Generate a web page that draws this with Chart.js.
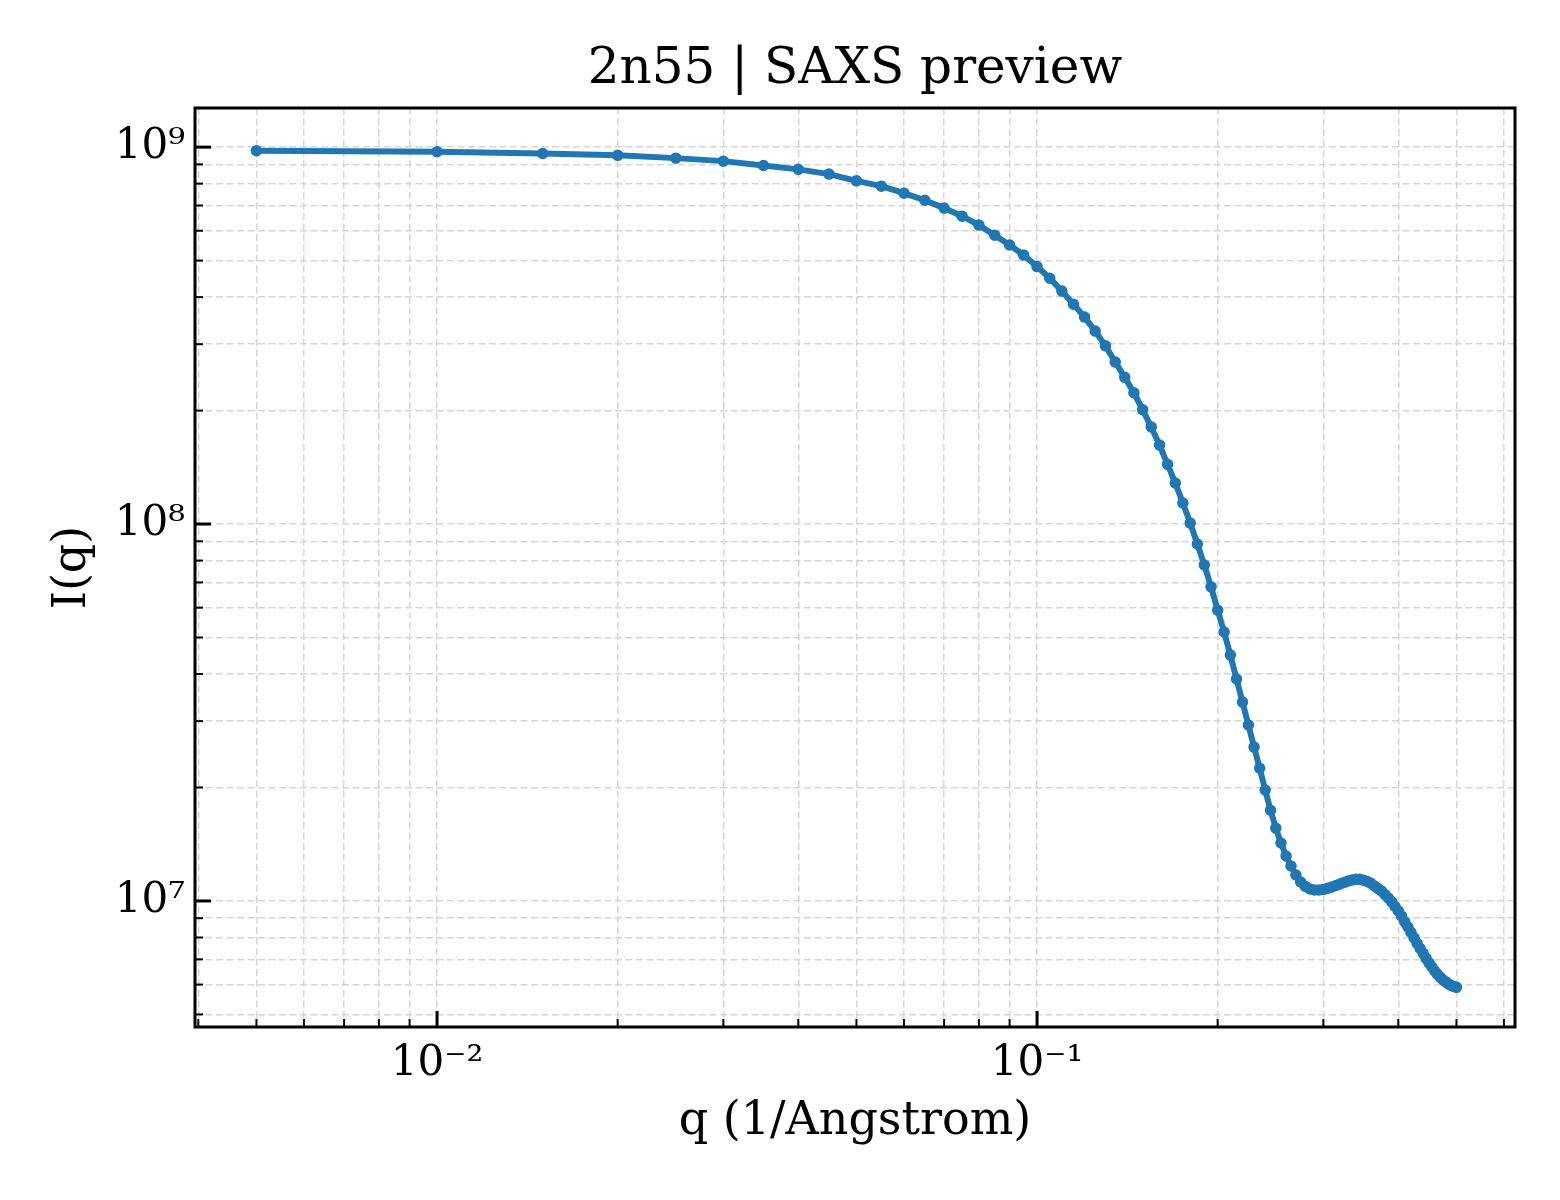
<!DOCTYPE html>
<html>
<head>
<meta charset="utf-8">
<title>2n55 | SAXS preview</title>
<script src="https://cdn.jsdelivr.net/npm/chart.js@4.4.1/dist/chart.umd.min.js"></script>
<style>
  html, body { margin: 0; padding: 0; background: #ffffff; }
  canvas { display: block; }
</style>
</head>
<body>
<canvas id="saxsChart" width="1560" height="1200"></canvas>
<script>
// q values (1/Angstrom)
const qValues = [
  0.005, 0.010, 0.015, 0.020, 0.025, 0.030, 0.035, 0.040, 0.045, 0.050,
  0.055, 0.060, 0.065, 0.070, 0.075, 0.080, 0.085, 0.090, 0.095, 0.100,
  0.105, 0.110, 0.115, 0.120, 0.125, 0.130, 0.135, 0.140, 0.145, 0.150,
  0.155, 0.160, 0.165, 0.170, 0.175, 0.180, 0.185, 0.190, 0.195, 0.200,
  0.205, 0.210, 0.215, 0.220, 0.225, 0.230, 0.235, 0.240, 0.245, 0.250,
  0.255, 0.260, 0.265, 0.270, 0.275, 0.280, 0.285, 0.290, 0.295, 0.300,
  0.305, 0.310, 0.315, 0.320, 0.325, 0.330, 0.335, 0.340, 0.345, 0.350,
  0.355, 0.360, 0.365, 0.370, 0.375, 0.380, 0.385, 0.390, 0.395, 0.400,
  0.405, 0.410, 0.415, 0.420, 0.425, 0.430, 0.435, 0.440, 0.445, 0.450,
  0.455, 0.460, 0.465, 0.470, 0.475, 0.480, 0.485, 0.490, 0.495, 0.500
];

// I(q)
const intensity = [
  9.78e8, 9.72e8, 9.62e8, 9.51e8, 9.35e8, 9.18e8, 8.94e8, 8.73e8, 8.48e8, 8.14e8,
  7.88e8, 7.55e8, 7.23e8, 6.89e8, 6.56e8, 6.21e8, 5.84e8, 5.50e8, 5.17e8, 4.82e8,
  4.49e8, 4.15e8, 3.83e8, 3.54e8, 3.25e8, 2.97e8, 2.69e8, 2.45e8, 2.23e8, 2.01e8,
  1.81e8, 1.62e8, 1.44e8, 1.285e8, 1.137e8, 1.006e8, 8.85e7, 7.79e7, 6.81e7, 5.91e7,
  5.17e7, 4.49e7, 3.88e7, 3.37e7, 2.93e7, 2.56e7, 2.25e7, 1.97e7, 1.74e7, 1.56e7,
  1.425e7, 1.316e7, 1.238e7, 1.172e7, 1.123e7, 1.093e7, 1.076e7, 1.070e7, 1.070e7, 1.073e7,
  1.080e7, 1.089e7, 1.099e7, 1.109e7, 1.120e7, 1.130e7, 1.137e7, 1.141e7, 1.141e7, 1.135e7,
  1.126e7, 1.114e7, 1.096e7, 1.079e7, 1.063e7, 1.040e7, 1.018e7, 9.94e6, 9.67e6, 9.41e6,
  9.12e6, 8.80e6, 8.53e6, 8.25e6, 7.98e6, 7.71e6, 7.48e6, 7.26e6, 7.04e6, 6.85e6,
  6.68e6, 6.52e6, 6.38e6, 6.27e6, 6.17e6, 6.10e6, 6.02e6, 5.97e6, 5.93e6, 5.90e6
];

// Axis ticks
const xMajorTicks = [0.01, 0.1];
const xMajorLabels = ["10\u207B\u00B2", "10\u207B\u00B9"];
const xMinorTicks = [0.004, 0.005, 0.006, 0.007, 0.008, 0.009,
  0.02, 0.03, 0.04, 0.05, 0.06, 0.07, 0.08, 0.09,
  0.2, 0.3, 0.4, 0.5, 0.6];
const yMajorTicks = [1e7, 1e8, 1e9];
const yMajorLabels = ["10\u2077", "10\u2078", "10\u2079"];
const yMinorTicks = [5e6, 6e6, 7e6, 8e6, 9e6,
  2e7, 3e7, 4e7, 5e7, 6e7, 7e7, 8e7, 9e7,
  2e8, 3e8, 4e8, 5e8, 6e8, 7e8, 8e8, 9e8];

const FONT = "'DejaVu Serif', 'Liberation Serif', serif";
const LINE_COLOR = "#1f77b4";
const GRID_COLOR = "#d6d6d6";

// Build tick list for a scale (major + minor, sorted)
const makeTicks = (major, minor) => {
  const all = major.map((v) => ({ value: v, major: true }))
    .concat(minor.map((v) => ({ value: v, major: false })));
  return all.sort((a, b) => a.value - b.value);
};

const labelFor = (value, majors, labels) => {
  const i = majors.findIndex((m) => Math.abs(m - value) / m < 1e-6);
  return i >= 0 ? labels[i] : "";
};

// Inward tick marks and the box around the plot
const framePlugin = {
  id: "frame",
  afterDraw(chart) {
    const { ctx, chartArea: a, scales } = chart;
    ctx.save();
    ctx.strokeStyle = "#000000";

    scales.x.ticks.forEach((t) => {
      const px = scales.x.getPixelForValue(t.value);
      ctx.lineWidth = t.major ? 3 : 2;
      ctx.beginPath();
      ctx.moveTo(px, a.bottom);
      ctx.lineTo(px, a.bottom - (t.major ? 16 : 8));
      ctx.stroke();
    });

    scales.y.ticks.forEach((t) => {
      const py = scales.y.getPixelForValue(t.value);
      ctx.lineWidth = t.major ? 3 : 2;
      ctx.beginPath();
      ctx.moveTo(a.left, py);
      ctx.lineTo(a.left + (t.major ? 16 : 8), py);
      ctx.stroke();
    });

    ctx.lineWidth = 3;
    ctx.strokeRect(a.left, a.top, a.right - a.left, a.bottom - a.top);
    ctx.restore();
  },
};

const ctx = document.getElementById("saxsChart").getContext("2d");

new Chart(ctx, {
  type: "scatter",
  data: {
    datasets: [
      {
        label: "2n55",
        data: qValues.map((q, i) => ({ x: q, y: intensity[i] })),
        showLine: true,
        borderColor: LINE_COLOR,
        backgroundColor: LINE_COLOR,
        borderWidth: 6,
        pointRadius: 5,
        pointBorderWidth: 1.5,
        pointBorderColor: LINE_COLOR,
        tension: 0,
      },
    ],
  },
  options: {
    responsive: false,
    animation: false,
    devicePixelRatio: 1,
    layout: {
      padding: { left: 0, right: 45, top: 0, bottom: 0 },
    },
    plugins: {
      legend: { display: false },
      tooltip: { enabled: false },
      title: {
        display: true,
        fullSize: false,
        text: "2n55 | SAXS preview",
        color: "#000000",
        font: { family: FONT, size: 50, weight: "normal", lineHeight: 1.2 },
        padding: { top: 40, bottom: 8 },
      },
    },
    scales: {
      x: {
        type: "logarithmic",
        min: 0.00395,
        max: 0.626,
        afterBuildTicks: (scale) => {
          scale.ticks = makeTicks(xMajorTicks, xMinorTicks);
        },
        afterFit: (scale) => {
          scale.height = 173;
        },
        grid: {
          color: GRID_COLOR,
          lineWidth: 1.5,
          drawTicks: false,
        },
        border: { display: false, dash: [7, 3.5] },
        ticks: {
          autoSkip: false,
          maxRotation: 0,
          padding: 12,
          color: "#000000",
          font: { family: FONT, size: 42 },
          callback: (value) => labelFor(value, xMajorTicks, xMajorLabels),
        },
        title: {
          display: true,
          text: "q (1/Angstrom)",
          color: "#000000",
          font: { family: FONT, size: 46, lineHeight: 1.2 },
          padding: { top: 0, bottom: 50 },
        },
      },
      y: {
        type: "logarithmic",
        min: 4.63e6,
        max: 1.27e9,
        afterBuildTicks: (scale) => {
          scale.ticks = makeTicks(yMajorTicks, yMinorTicks);
        },
        afterFit: (scale) => {
          scale.width = 195;
        },
        grid: {
          color: GRID_COLOR,
          lineWidth: 1.5,
          drawTicks: false,
        },
        border: { display: false, dash: [7, 3.5] },
        ticks: {
          autoSkip: false,
          padding: 10,
          color: "#000000",
          font: { family: FONT, size: 42 },
          callback: (value) => labelFor(value, yMajorTicks, yMajorLabels),
        },
        title: {
          display: true,
          text: "I(q)",
          color: "#000000",
          font: { family: FONT, size: 46, lineHeight: 1.2 },
          padding: { top: 45, bottom: 0 },
        },
      },
    },
  },
  plugins: [framePlugin],
});
</script>
</body>
</html>
